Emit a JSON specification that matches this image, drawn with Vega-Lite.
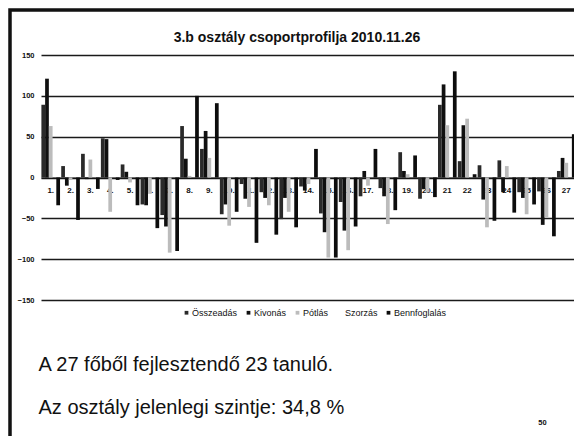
{
  "$schema": "https://vega.github.io/schema/vega-lite/v6.json",
  "width": 564,
  "height": 426,
  "autosize": "none",
  "padding": {"left": 10, "top": 10, "right": 0, "bottom": 0},
  "background": "white",
  "title": {
    "text": "3.b osztály csoportprofilja 2010.11.26",
    "font": "Liberation Sans",
    "fontSize": 14,
    "fontWeight": "bold",
    "color": "#111",
    "anchor": "middle",
    "frame": "group",
    "dx": 5,
    "offset": -35
  },
  "config": {
    "font": "Liberation Sans",
    "view": {"stroke": "#111", "strokeWidth": 3.5, "strokeDash": [564, 990, 426], "fill": "white"}
  },
  "datasets": {
    "profile": [
      {"s": "1.", "op": "Összeadás", "v": 89}, {"s": "1.", "op": "Kivonás", "v": 121}, {"s": "1.", "op": "Pótlás", "v": 63}, {"s": "1.", "op": "Szorzás", "v": 40}, {"s": "1.", "op": "Bennfoglalás", "v": -34},
      {"s": "2.", "op": "Összeadás", "v": 14}, {"s": "2.", "op": "Kivonás", "v": -10}, {"s": "2.", "op": "Pótlás", "v": -3}, {"s": "2.", "op": "Szorzás", "v": -55}, {"s": "2.", "op": "Bennfoglalás", "v": -52},
      {"s": "3.", "op": "Összeadás", "v": 29}, {"s": "3.", "op": "Kivonás", "v": -2}, {"s": "3.", "op": "Pótlás", "v": 22}, {"s": "3.", "op": "Szorzás", "v": 10}, {"s": "3.", "op": "Bennfoglalás", "v": -14},
      {"s": "4.", "op": "Összeadás", "v": 48}, {"s": "4.", "op": "Kivonás", "v": 47}, {"s": "4.", "op": "Pótlás", "v": -42}, {"s": "4.", "op": "Szorzás", "v": 20}, {"s": "4.", "op": "Bennfoglalás", "v": -3},
      {"s": "5.", "op": "Összeadás", "v": 16}, {"s": "5.", "op": "Kivonás", "v": 7}, {"s": "5.", "op": "Pótlás", "v": -6}, {"s": "5.", "op": "Szorzás", "v": 5}, {"s": "5.", "op": "Bennfoglalás", "v": -34},
      {"s": "6.", "op": "Összeadás", "v": -33}, {"s": "6.", "op": "Kivonás", "v": -34}, {"s": "6.", "op": "Pótlás", "v": -20}, {"s": "6.", "op": "Szorzás", "v": -30}, {"s": "6.", "op": "Bennfoglalás", "v": -62},
      {"s": "7.", "op": "Összeadás", "v": -46}, {"s": "7.", "op": "Kivonás", "v": -60}, {"s": "7.", "op": "Pótlás", "v": -92}, {"s": "7.", "op": "Szorzás", "v": -40}, {"s": "7.", "op": "Bennfoglalás", "v": -90},
      {"s": "8.", "op": "Összeadás", "v": 63}, {"s": "8.", "op": "Kivonás", "v": 23}, {"s": "8.", "op": "Pótlás", "v": 2}, {"s": "8.", "op": "Szorzás", "v": 30}, {"s": "8.", "op": "Bennfoglalás", "v": 100},
      {"s": "9.", "op": "Összeadás", "v": 35}, {"s": "9.", "op": "Kivonás", "v": 57}, {"s": "9.", "op": "Pótlás", "v": 24}, {"s": "9.", "op": "Szorzás", "v": 30}, {"s": "9.", "op": "Bennfoglalás", "v": 91},
      {"s": "10.", "op": "Összeadás", "v": -45}, {"s": "10.", "op": "Kivonás", "v": -33}, {"s": "10.", "op": "Pótlás", "v": -59}, {"s": "10.", "op": "Szorzás", "v": -30}, {"s": "10.", "op": "Bennfoglalás", "v": -42},
      {"s": "11.", "op": "Összeadás", "v": -8}, {"s": "11.", "op": "Kivonás", "v": -26}, {"s": "11.", "op": "Pótlás", "v": -36}, {"s": "11.", "op": "Szorzás", "v": -30}, {"s": "11.", "op": "Bennfoglalás", "v": -80},
      {"s": "12.", "op": "Összeadás", "v": -18}, {"s": "12.", "op": "Kivonás", "v": -25}, {"s": "12.", "op": "Pótlás", "v": -34}, {"s": "12.", "op": "Szorzás", "v": -25}, {"s": "12.", "op": "Bennfoglalás", "v": -70},
      {"s": "13.", "op": "Összeadás", "v": -51}, {"s": "13.", "op": "Kivonás", "v": -25}, {"s": "13.", "op": "Pótlás", "v": -42}, {"s": "13.", "op": "Szorzás", "v": -30}, {"s": "13.", "op": "Bennfoglalás", "v": -61},
      {"s": "14.", "op": "Összeadás", "v": -11}, {"s": "14.", "op": "Kivonás", "v": -16}, {"s": "14.", "op": "Pótlás", "v": -8}, {"s": "14.", "op": "Szorzás", "v": 10}, {"s": "14.", "op": "Bennfoglalás", "v": 35},
      {"s": "15.", "op": "Összeadás", "v": -44}, {"s": "15.", "op": "Kivonás", "v": -67}, {"s": "15.", "op": "Pótlás", "v": -98}, {"s": "15.", "op": "Szorzás", "v": -40}, {"s": "15.", "op": "Bennfoglalás", "v": -98},
      {"s": "16.", "op": "Összeadás", "v": -30}, {"s": "16.", "op": "Kivonás", "v": -65}, {"s": "16.", "op": "Pótlás", "v": -89}, {"s": "16.", "op": "Szorzás", "v": -35}, {"s": "16.", "op": "Bennfoglalás", "v": -60},
      {"s": "17.", "op": "Összeadás", "v": -23}, {"s": "17.", "op": "Kivonás", "v": 8}, {"s": "17.", "op": "Pótlás", "v": -10}, {"s": "17.", "op": "Szorzás", "v": 5}, {"s": "17.", "op": "Bennfoglalás", "v": 35},
      {"s": "18.", "op": "Összeadás", "v": -13}, {"s": "18.", "op": "Kivonás", "v": -23}, {"s": "18.", "op": "Pótlás", "v": -57}, {"s": "18.", "op": "Szorzás", "v": -20}, {"s": "18.", "op": "Bennfoglalás", "v": -40},
      {"s": "19.", "op": "Összeadás", "v": 31}, {"s": "19.", "op": "Kivonás", "v": 8}, {"s": "19.", "op": "Pótlás", "v": 4}, {"s": "19.", "op": "Szorzás", "v": 10}, {"s": "19.", "op": "Bennfoglalás", "v": 27},
      {"s": "20.", "op": "Összeadás", "v": -26}, {"s": "20.", "op": "Kivonás", "v": -14}, {"s": "20.", "op": "Pótlás", "v": -18}, {"s": "20.", "op": "Szorzás", "v": -10}, {"s": "20.", "op": "Bennfoglalás", "v": -24},
      {"s": "21", "op": "Összeadás", "v": 89}, {"s": "21", "op": "Kivonás", "v": 114}, {"s": "21", "op": "Pótlás", "v": 64}, {"s": "21", "op": "Szorzás", "v": 40}, {"s": "21", "op": "Bennfoglalás", "v": 130},
      {"s": "22", "op": "Összeadás", "v": 20}, {"s": "22", "op": "Kivonás", "v": 64}, {"s": "22", "op": "Pótlás", "v": 72}, {"s": "22", "op": "Szorzás", "v": 30}, {"s": "22", "op": "Bennfoglalás", "v": 4},
      {"s": "23", "op": "Összeadás", "v": 15}, {"s": "23", "op": "Kivonás", "v": -27}, {"s": "23", "op": "Pótlás", "v": -61}, {"s": "23", "op": "Szorzás", "v": -20}, {"s": "23", "op": "Bennfoglalás", "v": -53},
      {"s": "24", "op": "Összeadás", "v": 21}, {"s": "24", "op": "Kivonás", "v": -18}, {"s": "24", "op": "Pótlás", "v": 14}, {"s": "24", "op": "Szorzás", "v": 5}, {"s": "24", "op": "Bennfoglalás", "v": -43},
      {"s": "25", "op": "Összeadás", "v": -18}, {"s": "25", "op": "Kivonás", "v": -25}, {"s": "25", "op": "Pótlás", "v": -45}, {"s": "25", "op": "Szorzás", "v": -20}, {"s": "25", "op": "Bennfoglalás", "v": -33},
      {"s": "26", "op": "Összeadás", "v": -17}, {"s": "26", "op": "Kivonás", "v": -58}, {"s": "26", "op": "Pótlás", "v": -49}, {"s": "26", "op": "Szorzás", "v": -30}, {"s": "26", "op": "Bennfoglalás", "v": -72},
      {"s": "27", "op": "Összeadás", "v": 8}, {"s": "27", "op": "Kivonás", "v": 24}, {"s": "27", "op": "Pótlás", "v": 18}, {"s": "27", "op": "Szorzás", "v": 20}, {"s": "27", "op": "Bennfoglalás", "v": 53}
    ]
  },
  "data": {"name": "profile"},
  "mark": {"type": "bar"},
  "encoding": {
    "x": {
      "field": "s",
      "type": "ordinal",
      "sort": null,
      "scale": {"range": [31, 566], "paddingInner": 0.06, "paddingOuter": 0.02},
      "axis": {
        "orient": "bottom",
        "offset": -258.5,
        "domain": true,
        "domainColor": "#111",
        "domainWidth": 1,
        "ticks": false,
        "grid": false,
        "labelAngle": 0,
        "labelPadding": 9,
        "labelFontSize": 8,
        "labelFontWeight": "bold",
        "labelColor": "#111",
        "labelOverlap": false,
        "labelBound": false,
        "zindex": 0,
        "title": ["A 27 főből fejlesztendő 23 tanuló.", "Az osztály jelenlegi szintje: 34,8 %"],
        "titleX": 28,
        "titleY": 192.5,
        "titleAlign": "left",
        "titleBaseline": "alphabetic",
        "titleFontSize": 20,
        "titleFontWeight": "normal",
        "titleLineHeight": 43,
        "titleColor": "#111"
      }
    },
    "xOffset": {
      "field": "op",
      "sort": ["Összeadás", "Kivonás", "Pótlás", "Szorzás", "Bennfoglalás"],
      "scale": {"paddingInner": 0, "paddingOuter": 0}
    },
    "y": {
      "field": "v",
      "type": "quantitative",
      "scale": {"domain": [-150, 150], "range": [290, 45], "nice": false, "zero": false},
      "axis": {
        "orient": "left",
        "offset": -26,
        "domain": false,
        "ticks": false,
        "values": [-150, -100, -50, 0, 50, 100, 150],
        "labelPadding": 2,
        "labelFontSize": 7.5,
        "labelFontWeight": "bold",
        "labelColor": "#111",
        "grid": true,
        "gridColor": "#1a1a1a",
        "gridWidth": 1.4,
        "zindex": 0,
        "title": "50",
        "titleAngle": 0,
        "titleX": 506,
        "titleY": 412,
        "titleAlign": "center",
        "titleBaseline": "middle",
        "titleFontSize": 7.5,
        "titleFontWeight": "bold",
        "titleColor": "#111"
      }
    },
    "color": {
      "field": "op",
      "type": "nominal",
      "sort": ["Összeadás", "Kivonás", "Pótlás", "Szorzás", "Bennfoglalás"],
      "scale": {
        "domain": ["Összeadás", "Kivonás", "Pótlás", "Szorzás", "Bennfoglalás"],
        "range": ["#2a2a2a", "#101010", "#bcbcbc", "rgba(255,255,255,0)", "#0c0c0c"]
      },
      "legend": {
        "orient": "none",
        "legendX": 172,
        "legendY": 298,
        "direction": "horizontal",
        "title": null,
        "symbolType": "square",
        "symbolSize": 14,
        "symbolStrokeWidth": 0,
        "labelFontSize": 9,
        "labelOffset": 1,
        "labelColor": "#111",
        "columnPadding": 6
      }
    }
  }
}
